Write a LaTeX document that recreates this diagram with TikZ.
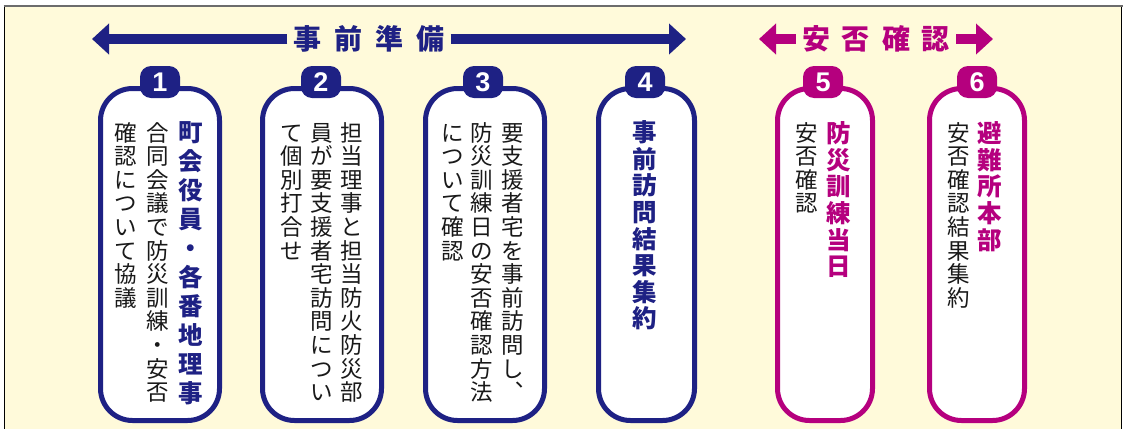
\documentclass[tikz,border=0pt]{standalone}
\usepackage{fontspec}
\usetikzlibrary{arrows.meta}
\newfontfamily\jp{Noto Sans CJK JP}
\newfontfamily\numfont{Liberation Sans}
\definecolor{navy}{RGB}{30,33,132}
\definecolor{mag}{RGB}{181,0,126}
\definecolor{cream}{RGB}{255,250,218}
\makeatletter
\newcommand\vcol[2]{\vbox{\baselineskip=#1\lineskiplimit=-100pt\lineskip=0pt
  \@tfor\vc@ch:=#2\do{\hbox to 1em{\hss\vrule height .88em depth .12em width 0pt\vc@ch\hss}}}}
\makeatother
\tikzset{
  pill/.style={draw=#1, line width=5pt, fill=white, rounded corners=32pt, minimum height=332pt, inner sep=0pt},
  badge/.style={fill=#1, rounded corners=11pt, minimum width=40pt, minimum height=32pt, inner sep=0pt,
    text=white, font=\numfont\bfseries\fontsize{27}{27}\selectfont},
  body/.style={anchor=north, inner sep=0pt, text=black!90, font=\jp\fontsize{22.5}{23.6}\selectfont},
  head/.style={anchor=north, inner sep=0pt, font=\jp\bfseries\fontsize{24.5}{26}\selectfont},
  hdr/.style={inner xsep=6pt, inner ysep=0pt, font=\jp\bfseries\fontsize{28}{28}\selectfont},
  harrow/.style={line width=10pt, -{Triangle[length=17pt,width=30pt]}},
}
\begin{document}
\begin{tikzpicture}[x=1pt,y=-1pt]
\useasboundingbox (0,0) rectangle (1124,429);
\fill[white] (0,0) rectangle (1124,429);
\fill[cream] (4,7) rectangle (1122,429);
\draw[gray!85!black, line width=2pt] (3.5,6) -- (1122.5,6);
\draw[black, line width=1.5pt] (4.5,7) -- (4.5,429);
\draw[black, line width=1.5pt] (1121.5,7) -- (1121.5,429);

% header arrows
\node[hdr, text=navy] (hA) at (369,39) {事\hspace{13pt}前\hspace{13pt}準\hspace{13pt}備};
\coordinate (tA1) at (92,39);
\coordinate (tA2) at (686,39);
\draw[harrow, navy] (hA.west) -- (tA1);
\draw[harrow, navy] (hA.east) -- (tA2);
\node[hdr, text=mag] (hB) at (876,39) {安\hspace{12pt}否\hspace{12pt}確\hspace{12pt}認};
\coordinate (tB1) at (759,39);
\coordinate (tB2) at (993,39);
\draw[harrow, mag] (hB.west) -- (tB1);
\draw[harrow, mag] (hB.east) -- (tB2);

% boxes
\node[pill=navy, minimum width=119pt] (p1) at (160,254.5) {};
\node[pill=navy, minimum width=119pt] (p2) at (322,254.5) {};
\node[pill=navy, minimum width=119pt] (p3) at (485,254.5) {};
\node[pill=navy, minimum width=96pt] (p4) at (646.5,254.5) {};
\node[pill=mag, minimum width=95pt] (p5) at (825,254.5) {};
\node[pill=mag, minimum width=95pt] (p6) at (977,254.5) {};

% badges
\node[badge=navy] (b1) at (160,82) {1};
\node[badge=navy] (b2) at (321,82) {2};
\node[badge=navy] (b3) at (483,82) {3};
\node[badge=navy] (b4) at (645,82) {4};
\node[badge=mag] (b5) at (823,82) {5};
\node[badge=mag] (b6) at (977,82) {6};

% box 1
\node[head, text=navy] (t1a) at (191,120) {\vcol{29pt}{町会役員・各番地理事}};
\node[body] (t1b) at (158,121) {\vcol{23.6pt}{合同会議で防災訓練・安否}};
\node[body] (t1c) at (126,121) {\vcol{23.6pt}{確認について協議}};
% box 2
\node[body] (t2a) at (352,121) {\vcol{23.6pt}{担当理事と担当防火防災部}};
\node[body] (t2b) at (322,121) {\vcol{23.6pt}{員が要支援者宅訪問につい}};
\node[body] (t2c) at (292,121) {\vcol{23.6pt}{て個別打合せ}};
% box 3
\node[body] (t3a) at (513,121) {\vcol{23.6pt}{要支援者宅を事前訪問し︑}};
\node[body] (t3b) at (482,121) {\vcol{23.6pt}{防災訓練日の安否確認方法}};
\node[body] (t3c) at (453,121) {\vcol{23.6pt}{について確認}};
% box 4
\node[head, text=navy] (t4a) at (645,120) {\vcol{26.6pt}{事前訪問結果集約}};
% box 5
\node[head, text=mag] (t5a) at (839,121) {\vcol{26.6pt}{防災訓練当日}};
\node[body] (t5b) at (807,121) {\vcol{23.6pt}{安否確認}};
% box 6
\node[head, text=mag] (t6a) at (990,121) {\vcol{26.6pt}{避難所本部}};
\node[body] (t6b) at (959,121) {\vcol{23.6pt}{安否確認結果集約}};
\end{tikzpicture}
\end{document}
